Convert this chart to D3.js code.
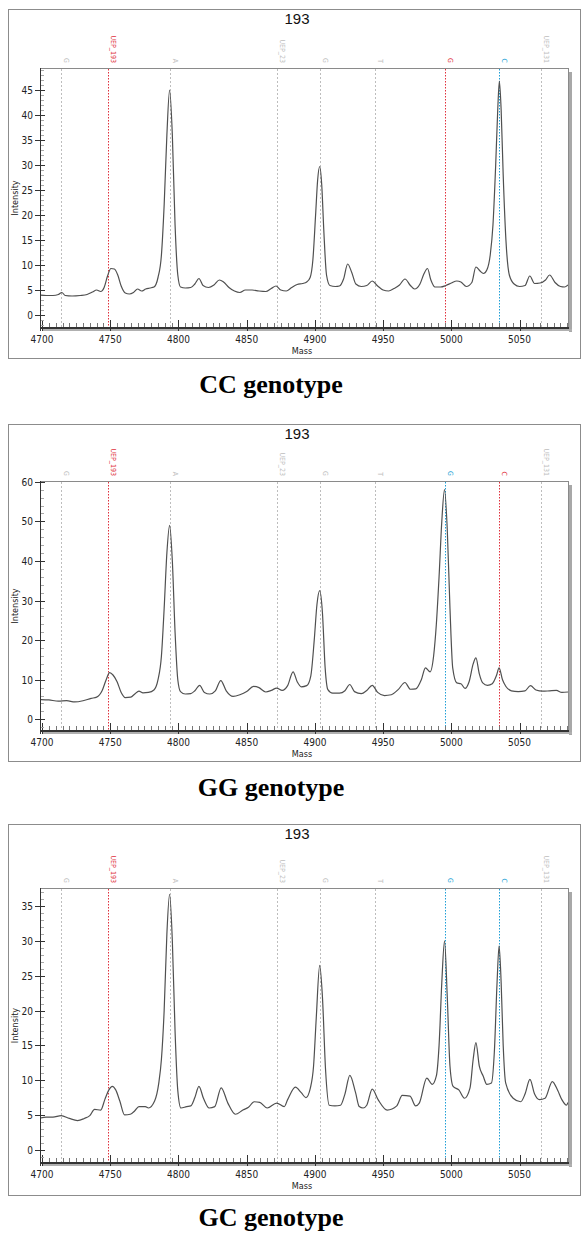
<!DOCTYPE html>
<html><head><meta charset="utf-8">
<script src="https://cdn.jsdelivr.net/npm/d3@7"></script>
<style>body{margin:0;background:#fff}svg{display:block}</style>
</head><body>
<svg id="c" width="588" height="1243"></svg>
<script>
// ---------- DATA ----------
const massCC = [4698,4703,4708,4712,4714.5,4717,4722,4728,4733,4737,4740,4743,4745.5,4748,4750.5,4753,4755.5,4758,4761,4764,4767,4770,4773,4776,4779,4782,4785,4787.5,4789.5,4791.5,4793.5,4795.5,4797.5,4799.5,4801.5,4805,4809,4812,4815,4818,4822,4826,4830,4833,4837,4841,4845,4849,4854,4859,4864,4868,4871.5,4875,4879,4883,4887,4891,4894,4896.5,4898.5,4900.5,4902,4903.5,4905,4906.5,4908.5,4911,4915,4918,4921,4924,4927,4930,4934,4938,4942,4946,4950,4954,4958,4962,4966,4970,4973,4977,4980,4982.5,4985,4988,4992,4996,5000,5004,5007,5011,5015,5018,5021,5023.5,5026,5028.5,5030.5,5032.5,5034,5035.2,5036.5,5038,5040,5042.5,5046,5050,5054,5057.5,5061,5065,5069,5072,5076,5080,5083,5085.5];
const intensityCC = [4.0,3.9,3.9,4.1,4.5,3.9,3.8,3.9,4.1,4.6,5.0,4.7,5.5,7.8,9.3,9.2,8.0,5.8,4.4,4.2,4.5,5.2,4.8,5.2,5.4,5.6,7.5,12,22,36,45,36,18,8,5.6,5.4,5.5,6.2,7.3,5.9,5.5,6.0,7.0,6.6,5.5,4.8,4.5,5.0,5.0,4.8,4.7,5.3,5.8,5.0,4.8,5.5,6.1,6.3,6.6,7.5,11,20,27,29.7,26,17,8,5.9,5.7,5.8,7.2,10.2,8.5,6.2,5.7,5.9,6.8,5.8,5.0,4.8,5.3,6.0,7.2,5.9,5.2,6.2,8.3,9.3,7.0,5.6,5.6,5.9,6.4,6.8,6.6,5.7,6.5,9.6,8.8,8.3,9.0,12,18,30,41,46.8,41,28,15,8,6.2,5.7,5.9,7.8,6.3,6.4,7.0,8.0,6.5,5.7,5.6,6.0];

const massGG = [4698,4705,4712,4718,4724,4730,4736,4740,4744,4747,4749.5,4752,4755,4758,4761,4765,4768,4771,4774,4778,4782,4785,4787.5,4789.5,4791.5,4793.5,4795.5,4797.5,4799.5,4801.5,4805,4809,4812,4815.5,4819,4823,4827,4831,4835,4840,4845,4850,4855,4859,4864,4868,4872,4876,4880,4884,4887,4890,4894,4897,4899.5,4901.5,4903.5,4905.5,4907.5,4909.5,4913,4918,4922,4925.5,4929,4934,4938,4942,4946,4951,4956,4961,4966,4970,4974,4978,4981,4984.5,4987,4989,4991,4993,4995,4997,4999,5001,5004,5007,5010,5013,5016,5018,5020.5,5023,5026.5,5030,5033,5035,5037.5,5040,5044,5049,5054,5058,5062,5067,5072,5077,5081,5085.5];
const intensityGG = [5.0,4.9,4.6,4.7,4.4,4.7,5.3,5.6,7.2,10,11.8,11.2,9.5,6.8,5.5,5.6,6.4,7.1,6.7,6.8,7.4,10,16,28,42,49,40,22,10,7,6.4,6.5,7.2,8.6,6.8,6.4,7.2,9.8,7.2,5.8,6.2,7.0,8.3,8.0,6.9,7.3,7.9,7.3,8.5,12,9.5,8.2,8.5,11,20,29,32.5,27,13,7.5,6.6,6.6,7.2,8.8,7.0,6.5,7.3,8.6,6.8,6.0,6.2,7.5,9.3,7.6,7.7,10,13,12,16,24,36,50,58,48,28,13,9.2,9.0,7.8,9.5,14,15.5,11.5,9.2,8.6,9,11,13,10,8.3,7.2,7.0,7.2,8.5,7.4,7.1,7.2,7.3,6.8,6.9];

const massGC = [4698,4703,4708,4714,4720,4726,4731,4735,4738.5,4743,4746,4749,4751.5,4754,4757,4760.5,4764.7,4768,4771,4775.7,4778,4782.5,4785.5,4787.5,4789.5,4791.5,4793.5,4795.5,4797.5,4799.5,4801.8,4806,4809,4812,4815,4818.3,4822.5,4826.6,4831.3,4836.2,4841.7,4847.2,4851.3,4855.5,4859.6,4865,4872,4877.5,4880,4885.7,4890,4893.4,4896.7,4899,4901,4903.5,4905.5,4907.8,4910.5,4914.6,4918.8,4922,4925.6,4929.8,4932.5,4935.3,4938,4942,4946.3,4953,4960,4964,4969.7,4973.8,4976.5,4982,4986,4989,4991,4993,4995,4997,4999,5001.3,5005.5,5009.6,5013.7,5016,5018,5020.5,5023.3,5026,5029.4,5031.5,5033.5,5035,5036.5,5038,5039.8,5045.3,5050.8,5054,5057.6,5061,5064.6,5068.7,5074,5078,5081,5084.4,5085.5];
const intensityGC = [4.5,4.7,4.7,4.9,4.5,4.2,4.5,4.9,5.8,5.7,7.2,8.6,9.1,8.6,7.0,5.0,5.1,5.6,6.2,6.2,6.0,7.0,9.5,13,20,31,36.7,30,17,8.5,6.0,6.2,6.3,7.5,9.1,7.4,6.0,6.2,8.9,6.7,5.1,5.7,6.1,6.9,6.8,6.0,6.7,6.2,7.2,9.0,8.2,7.5,8.9,12,19,26.5,22,11.5,6.4,6.3,6.4,8,10.7,8.2,6.2,6.0,6.4,8.7,7.2,5.7,6.3,7.8,7.7,6.3,6.7,10.3,9.4,10.6,15,24,30,22,12,9.1,8.6,7.4,8.9,13,15.4,12,10.6,9.4,9.6,14,24,29.3,24,15,9.6,7.4,6.9,8,10.1,8,7.2,7.4,9.8,8.5,7.2,6.4,6.8];

const markerMass   = [4714, 4748, 4794, 4872, 4904, 4944, 4995, 5035, 5066];
const markerLabels = ["G", "UEP_193", "A", "UEP_23", "G", "T", "G", "C", "UEP_131"];
const markerKindCC = ["n","r","n","n","n","n","r","b","n"];
const markerKindGG = ["n","r","n","n","n","n","b","r","n"];
const markerKindGC = ["n","r","n","n","n","n","b","b","n"];

const xTicks = [4700, 4750, 4800, 4850, 4900, 4950, 5000, 5050];
const yTicksCC = [0,5,10,15,20,25,30,35,40,45];
const yTicksGG = [0,10,20,30,40,50,60];
const yTicksGC = [0,5,10,15,20,25,30,35];
const panelTitle = "193";
const captions = ["CC genotype", "GG genotype", "GC genotype"];

// ---------- LAYOUT / STYLE ----------
const kindColor = {n:"#bdbdbd", r:"#e0303c", b:"#1e9fd6"};
const panels = [
  {mass:massCC, val:intensityCC, kinds:markerKindCC, yTicks:yTicksCC, yMinor:1,
   boxTop:9, boxBottom:358, plotTop:68, plotBottom:328, yDom:[-2.6,49.4], caption:captions[0], capY:393},
  {mass:massGG, val:intensityGG, kinds:markerKindGG, yTicks:yTicksGG, yMinor:2,
   boxTop:424, boxBottom:761, plotTop:481, plotBottom:731, yDom:[-2.95,60.2], caption:captions[1], capY:796},
  {mass:massGC, val:intensityGC, kinds:markerKindGC, yTicks:yTicksGC, yMinor:1,
   boxTop:824, boxBottom:1195, plotTop:888, plotBottom:1163, yDom:[-1.9,37.6], caption:captions[2], capY:1226}
];
const boxLeft = 8, boxRight = 580, plotLeft = 40, plotRight = 568;
const tickFont = "'DejaVu Sans Condensed','DejaVu Sans',sans-serif";

const svg = d3.select("#c");
const x = d3.scaleLinear().domain([4698.5, 5085.5]).range([plotLeft, plotRight]);

panels.forEach((p, i) => {
  const g = svg.append("g");
  const y = d3.scaleLinear().domain(p.yDom).range([p.plotBottom, p.plotTop]);

  // outer box
  g.append("rect").attr("x", boxLeft+0.5).attr("y", p.boxTop+0.5)
    .attr("width", boxRight-boxLeft).attr("height", p.boxBottom-p.boxTop)
    .attr("fill","#fff").attr("stroke","#8c8c8c").attr("stroke-width",1);

  // title
  g.append("text").attr("x", 297).attr("y", p.boxTop+15).attr("text-anchor","middle")
    .attr("font-family","'Liberation Sans',Arial,sans-serif").attr("font-size",15).attr("fill","#111")
    .text(panelTitle);

  // shadow on right of plot
  g.append("rect").attr("x", plotRight+1).attr("y", p.plotTop+4).attr("width",3)
    .attr("height", p.plotBottom-p.plotTop).attr("fill","#a8a8a8");
  g.append("rect").attr("x", plotLeft+3).attr("y", p.plotBottom+1).attr("width",plotRight-plotLeft+1)
    .attr("height",2).attr("fill","#b0b0b0");
  // frame top and right
  g.append("line").attr("x1",plotLeft).attr("x2",plotRight).attr("y1",p.plotTop+0.5).attr("y2",p.plotTop+0.5)
    .attr("stroke","#8a8a8a");
  g.append("line").attr("x1",plotRight+0.5).attr("x2",plotRight+0.5).attr("y1",p.plotTop).attr("y2",p.plotBottom)
    .attr("stroke","#8a8a8a");

  // markers
  const mk = g.append("g");
  markerMass.forEach((m, k) => {
    const col = kindColor[p.kinds[k]];
    const xx = Math.round(x(m)) + 0.5;
    mk.append("line").attr("x1",xx).attr("x2",xx).attr("y1",p.plotTop+1).attr("y2",p.plotBottom)
      .attr("stroke",col).attr("stroke-width",1)
      .attr("stroke-dasharray", p.kinds[k]==="n" ? "2,2" : "1.5,1.5");
    mk.append("text").attr("transform",`translate(${xx+2.5},${p.plotTop-5}) rotate(90)`)
      .attr("text-anchor","end").attr("font-family",tickFont).attr("font-size",7)
      .attr("fill",col).text(markerLabels[k]);
  });

  // x minor/major ticks
  const xa = g.append("g");
  d3.range(4700, 5086, 5).forEach(v => {
    const major = v % 50 === 0;
    const xx = Math.round(x(v)) + 0.5;
    xa.append("line").attr("x1",xx).attr("x2",xx)
      .attr("y1", p.plotBottom - (major ? 8 : 5)).attr("y2", p.plotBottom + (major ? 3 : 0))
      .attr("stroke", major ? "#333" : "#777");
  });
  xTicks.forEach(v => {
    xa.append("text").attr("x", x(v)).attr("y", p.plotBottom+15).attr("text-anchor","middle")
      .attr("font-family",tickFont).attr("font-size",10).attr("fill","#222").text(v);
  });
  xa.append("line").attr("x1",plotLeft).attr("x2",plotRight+1).attr("y1",p.plotBottom).attr("y2",p.plotBottom)
    .attr("stroke","#333").attr("stroke-width",2);
  xa.append("text").attr("x", 302).attr("y", p.plotBottom+26).attr("text-anchor","middle")
    .attr("font-family",tickFont).attr("font-size",9).attr("fill","#222").text("Mass");

  // y axis
  const ya = g.append("g");
  d3.range(Math.ceil(p.yDom[0]/p.yMinor)*p.yMinor, p.yDom[1], p.yMinor).forEach(v => {
    const yy = Math.round(y(v)) + 0.5;
    ya.append("line").attr("x1",plotLeft).attr("x2",plotLeft+4).attr("y1",yy).attr("y2",yy).attr("stroke","#aaa");
  });
  p.yTicks.forEach(v => {
    const yy = Math.round(y(v)) + 0.5;
    ya.append("line").attr("x1",plotLeft-5).attr("x2",plotLeft+5).attr("y1",yy).attr("y2",yy).attr("stroke","#333");
    ya.append("text").attr("x",plotLeft-7).attr("y",yy+3.5).attr("text-anchor","end")
      .attr("font-family",tickFont).attr("font-size",10).attr("fill","#222").text(v);
  });
  ya.append("line").attr("x1",plotLeft+0.5).attr("x2",plotLeft+0.5).attr("y1",p.plotTop).attr("y2",p.plotBottom+3)
    .attr("stroke","#333");
  ya.append("text").attr("transform",`translate(18,${(p.plotTop+p.plotBottom)/2}) rotate(-90)`)
    .attr("text-anchor","middle").attr("font-family",tickFont).attr("font-size",9).attr("fill","#222").text("Intensity");

  // spectrum
  const clipId = "clip"+i;
  g.append("clipPath").attr("id",clipId).append("rect")
    .attr("x",plotLeft+1).attr("y",p.plotTop).attr("width",plotRight-plotLeft-1).attr("height",p.plotBottom-p.plotTop);
  const pts = p.mass.map((m,k) => [m, p.val[k]]);
  g.append("path").datum(pts).attr("clip-path",`url(#${clipId})`)
    .attr("fill","none").attr("stroke","#505050").attr("stroke-width",1.2)
    .attr("d", d3.line().x(d => x(d[0])).y(d => y(d[1])).curve(d3.curveMonotoneX));

  // caption
  svg.append("text").attr("x", 271).attr("y", p.capY).attr("text-anchor","middle")
    .attr("font-family","'Liberation Serif','Times New Roman',serif").attr("font-weight","bold")
    .attr("font-size",26).attr("fill","#000").text(p.caption);
});
</script>
</body></html>
